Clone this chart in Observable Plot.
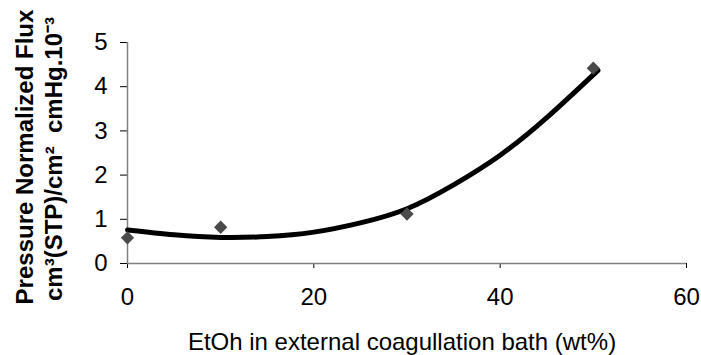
<!DOCTYPE html>
<html>
<head>
<meta charset="utf-8">
<script src="https://cdn.jsdelivr.net/npm/d3@7"></script>
<script src="https://cdn.jsdelivr.net/npm/@observablehq/plot@0.6"></script>
<style>
  html, body { margin: 0; padding: 0; background: #fff; }
  #chart { width: 701px; height: 355px; }
  svg { font-family: "Liberation Sans", Arial, sans-serif; }
</style>
</head>
<body>
<div id="chart"></div>
<script>
// Measured data points
const etohPct = [0, 10, 30, 50];
const flux = [0.58, 0.82, 1.12, 4.42];

// Trend line
const trendX = [0, 5, 10, 15, 20, 25, 30, 35, 40, 45, 50.5];
const trendY = [0.76, 0.65, 0.59, 0.61, 0.71, 0.92, 1.24, 1.78, 2.45, 3.3, 4.37];

const xTicks = [0, 20, 40, 60];
const yTicks = [0, 1, 2, 3, 4, 5];

const xTitle = "EtOh in external coagullation bath (wt%)";
const yTitle1 = "Pressure Normalized Flux";
const yTitle2 = "cm³(STP)/cm²\u00a0 cmHg.10⁻³";

const points = etohPct.map((x, i) => ({x, y: flux[i]}));
const trend = trendX.map((x, i) => ({x, y: trendY[i]}));

const axisColor = "#808080";

const chart = Plot.plot({
  width: 701,
  height: 355,
  marginLeft: 127,
  marginRight: 15,
  marginTop: 42,
  marginBottom: 92,
  style: {fontFamily: "'Liberation Sans', Arial, sans-serif", fontSize: "24px", color: "#000", background: "#fff"},
  x: {domain: [0, 60]},
  y: {domain: [0, 5]},
  marks: [
    Plot.axisX({ticks: xTicks, tickSize: 5, tickPadding: 19, stroke: "#000", strokeOpacity: 1, fontSize: 24, label: null, tickFormat: d => String(d)}),
    Plot.axisY({ticks: yTicks, tickSize: 7, tickPadding: 13, stroke: "#000", strokeOpacity: 1, fontSize: 24, label: null, tickFormat: d => String(d)}),
    Plot.ruleY([0], {stroke: axisColor, strokeWidth: 1.5}),
    Plot.ruleX([0], {stroke: axisColor, strokeWidth: 1.5}),
    Plot.line(trend, {x: "x", y: "y", curve: "natural", stroke: "#000", strokeWidth: 5, strokeLinecap: "round"}),
    Plot.dot(points, {x: "x", y: "y", symbol: "diamond2", r: 6, fill: "#4a4a4a", stroke: "none"}),
    Plot.text([xTitle], {frameAnchor: "bottom", lineAnchor: "middle", textAnchor: "middle", dx: -5, dy: 79, text: d => d, fontSize: 24, fill: "#000"}),
    Plot.text([yTitle1], {frameAnchor: "left", lineAnchor: "middle", textAnchor: "middle", dx: -102, dy: 4, rotate: -90, text: d => d, fontSize: 24, fontWeight: "bold", fill: "#000"}),
    Plot.text([yTitle2], {frameAnchor: "left", lineAnchor: "middle", textAnchor: "middle", dx: -73, dy: 6, rotate: -90, text: d => d, fontSize: 24, fontWeight: "bold", fill: "#000"})
  ]
});
document.getElementById("chart").appendChild(chart);
</script>
</body>
</html>
